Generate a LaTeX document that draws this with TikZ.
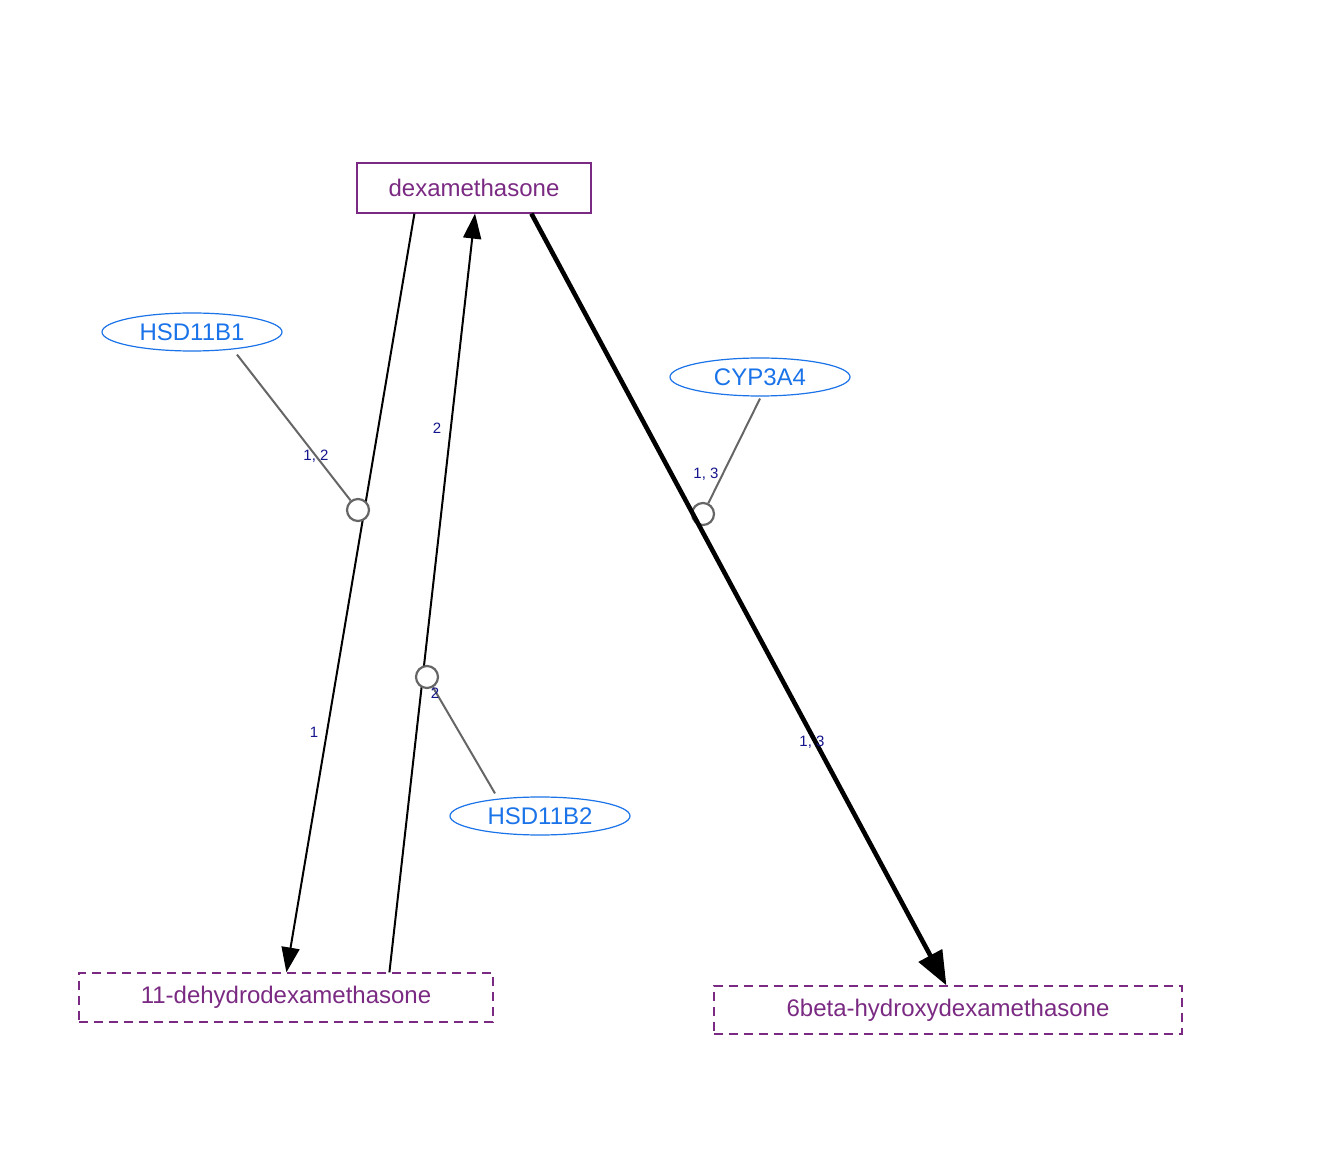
\documentclass[tikz,border=0pt]{standalone}
\usepackage{fontspec}
\setmainfont{Liberation Sans}
\usetikzlibrary{shapes.geometric,arrows.meta}
\definecolor{molc}{RGB}{122,42,130}
\definecolor{genec}{RGB}{26,115,232}
\definecolor{labc}{RGB}{20,20,140}
\definecolor{modc}{RGB}{102,102,102}
\begin{document}
\begin{tikzpicture}[x=0.5pt,y=-0.5pt,
  mol/.style={draw=molc,text=molc,line width=0.6pt,rectangle,inner sep=0pt,font=\fontsize{12}{14}\selectfont},
  molsolid/.style={mol},
  moldash/.style={mol,dash pattern=on 4.5pt off 3pt},
  gene/.style={ellipse,draw=genec,text=genec,line width=0.6pt,inner sep=0pt,minimum width=90pt,minimum height=19pt,font=\fontsize{12}{14}\selectfont},
  rxn/.style={draw=black,line width=1pt,-{Triangle[length=12.5pt,width=9pt]}},
  rxnthick/.style={draw=black,line width=2.3pt,-{Triangle[length=17pt,width=13pt]}},
  modline/.style={draw=modc,line width=1pt},
  proc/.style={circle,draw=modc,line width=1.1pt,minimum size=11pt,inner sep=0pt},
  lab/.style={text=labc,font=\fontsize{7.5}{9}\selectfont,inner sep=0pt}
]
\useasboundingbox (0,0) rectangle (1324,1176);

\node[molsolid,minimum width=117pt,minimum height=25pt] (dex) at (474,188) {dexamethasone};
\node[moldash,minimum width=207pt,minimum height=24.5pt] (dh) at (286,997.5) {11-dehydrodexamethasone};
\node[moldash,minimum width=234pt,minimum height=24pt] (hb) at (948,1010) {6beta-hydroxydexamethasone};

\node[gene] (g1) at (192,332) {HSD11B1};
\node[gene] (g3) at (760,377) {CYP3A4};
\node[gene] (g2) at (540,816) {HSD11B2};

\coordinate (p1) at (358,510);
\coordinate (p2) at (427,677);
\coordinate (p3) at (703,514);

% reaction 3 (thick): circle under the line
\node[proc] (c3) at (p3) {};
\draw[rxnthick] ([xshift=87.5pt]dex.south west) -- ([xshift=116.5pt]hb.north west);

% reaction 1
\draw[rxn] ([xshift=29pt]dex.south west) -- ([xshift=104pt]dh.north west);
% reaction 2
\draw[rxn] ([xshift=155.5pt]dh.north west) -- ([xshift=0.5pt]dex.south);

\node[proc,fill=white] (c1) at (p1) {};
\node[proc,fill=white] (c2) at (p2) {};

% modifiers
\draw[modline] ([xshift=22.5pt,yshift=-1.5pt]g1.south) -- (c1);
\draw[modline] ([yshift=-1pt]g3.south) -- (c3);
\draw[modline] ([xshift=-22.5pt,yshift=1.5pt]g2.north) -- (c2);

% labels
\node[lab] (l1) at (316,456) {1, 2};
\node[lab] (l2) at (706,474) {1, 3};
\node[lab] (l3) at (435,693) {2};
\node[lab] (l4) at (314,732) {1};
\node[lab] (l5) at (437,428) {2};
\node[lab] (l6) at (812,742) {1, 3};
\end{tikzpicture}
\end{document}
